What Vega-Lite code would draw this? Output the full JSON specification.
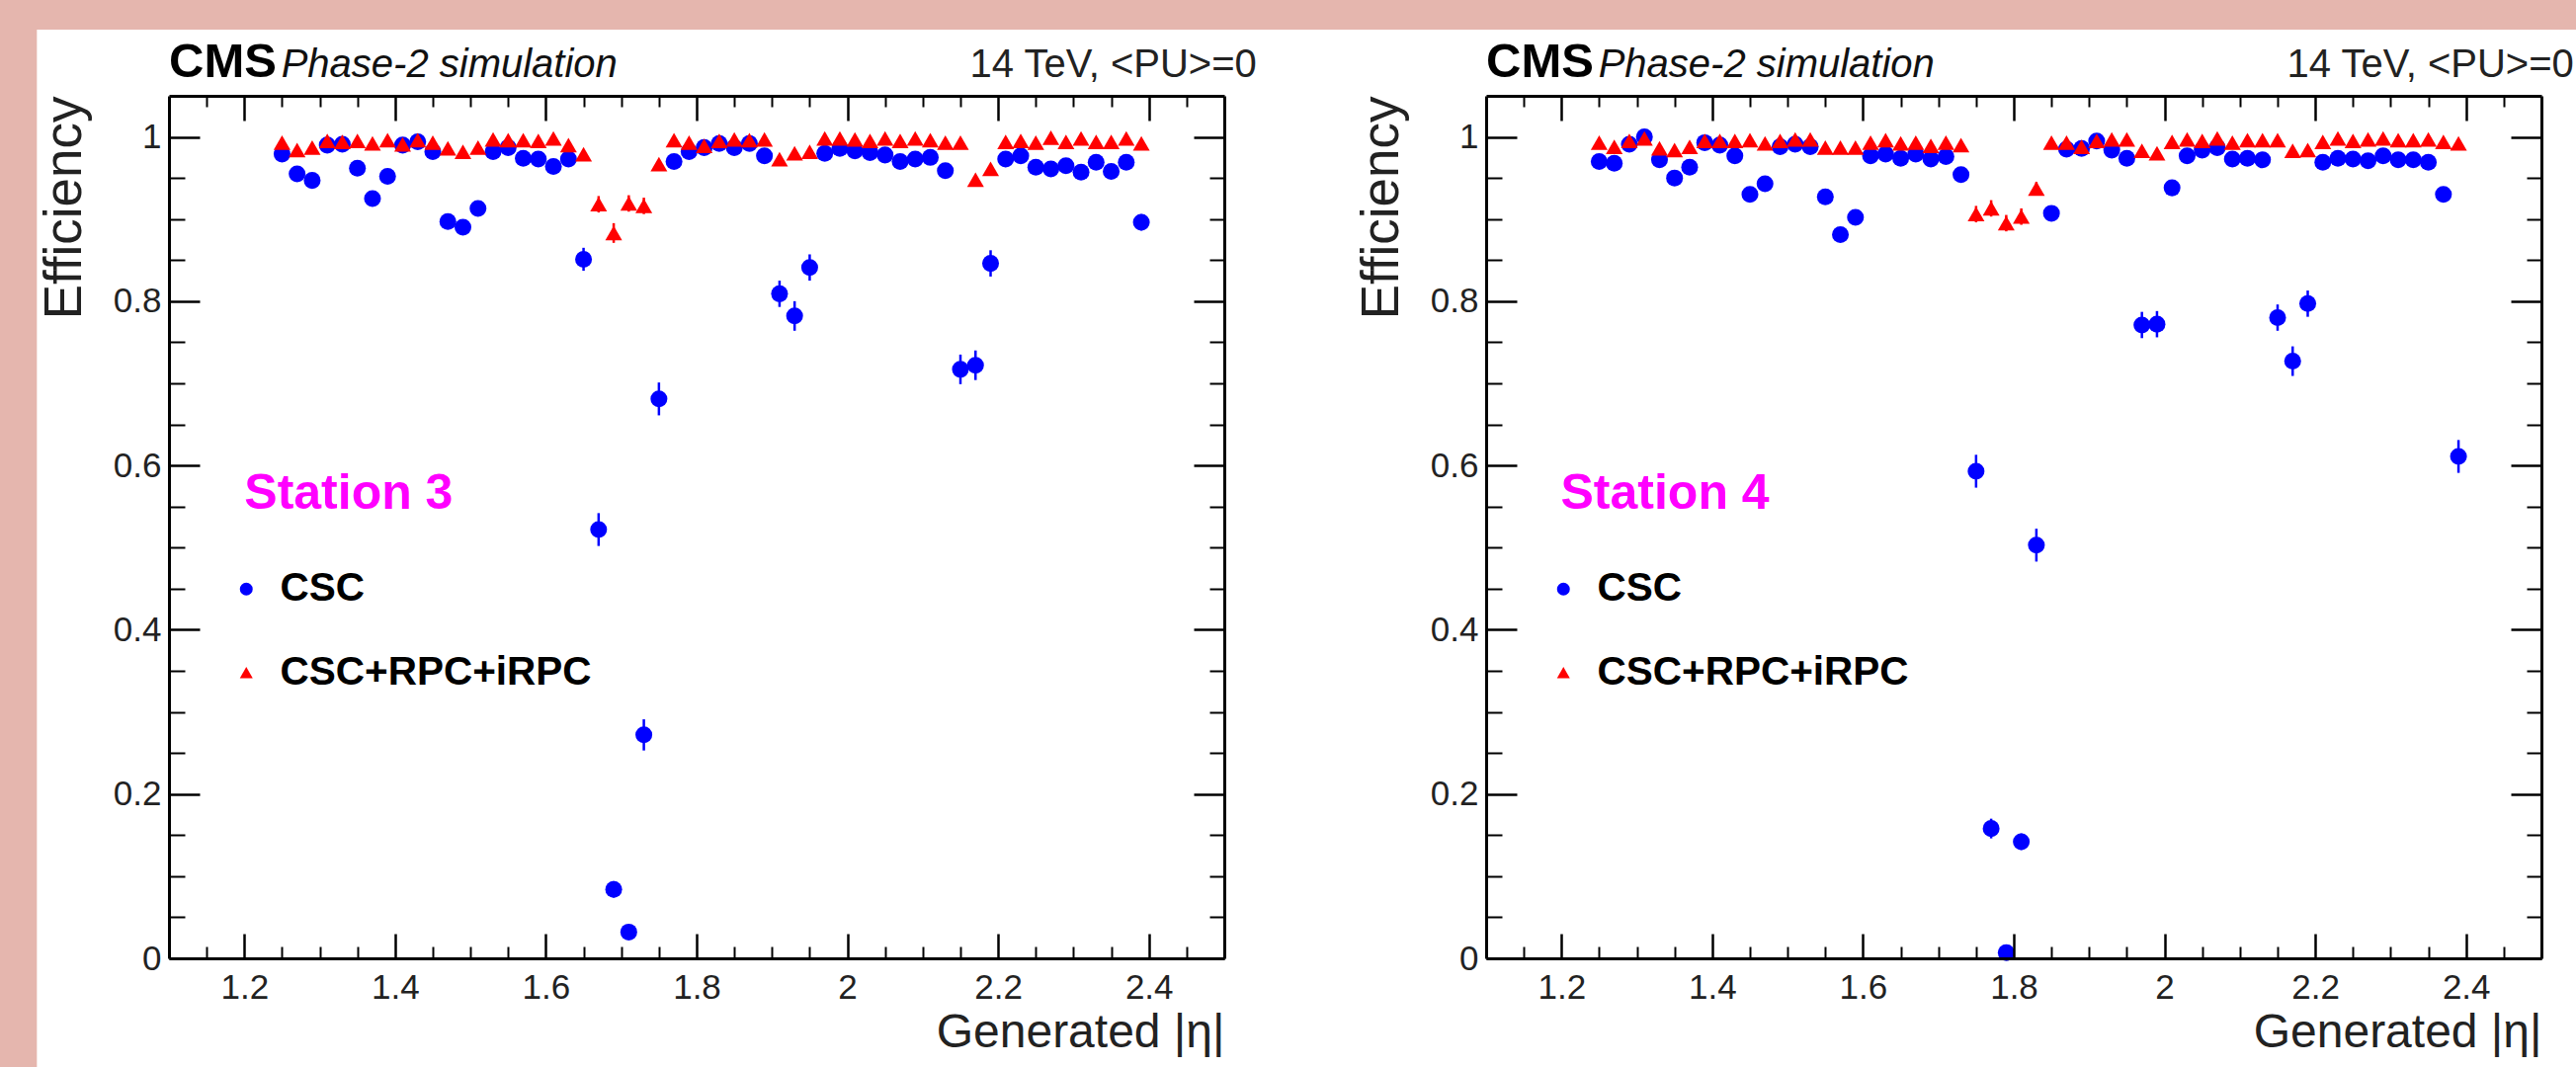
{
"$schema": "https://vega.github.io/schema/vega-lite/v6.json",
"background": "#e5b6ae",
"padding": {"left": 37, "top": 29, "right": 0, "bottom": 0},
"spacing": -4,
"datasets": {
"s3": [
{"eta":1.25,"s":"CSC","e":0.979,"u":0.004},{"eta":1.27,"s":"CSC","e":0.955,"u":0.005},{"eta":1.29,"s":"CSC","e":0.947,"u":0.005},{"eta":1.31,"s":"CSC","e":0.990,"u":0.003},{"eta":1.33,"s":"CSC","e":0.991,"u":0.003},{"eta":1.35,"s":"CSC","e":0.962,"u":0.005},{"eta":1.37,"s":"CSC","e":0.925,"u":0.007},{"eta":1.39,"s":"CSC","e":0.952,"u":0.005},{"eta":1.41,"s":"CSC","e":0.990,"u":0.003},{"eta":1.43,"s":"CSC","e":0.994,"u":0.003},
{"eta":1.45,"s":"CSC","e":0.982,"u":0.004},{"eta":1.47,"s":"CSC","e":0.897,"u":0.009},{"eta":1.49,"s":"CSC","e":0.890,"u":0.009},{"eta":1.51,"s":"CSC","e":0.913,"u":0.009},{"eta":1.53,"s":"CSC","e":0.982,"u":0.004},{"eta":1.55,"s":"CSC","e":0.987,"u":0.003},{"eta":1.57,"s":"CSC","e":0.974,"u":0.004},{"eta":1.59,"s":"CSC","e":0.973,"u":0.004},{"eta":1.61,"s":"CSC","e":0.964,"u":0.005},{"eta":1.63,"s":"CSC","e":0.973,"u":0.004},
{"eta":1.65,"s":"CSC","e":0.851,"u":0.014},{"eta":1.67,"s":"CSC","e":0.522,"u":0.02},{"eta":1.69,"s":"CSC","e":0.084,"u":0.01},{"eta":1.71,"s":"CSC","e":0.032,"u":0.006},{"eta":1.73,"s":"CSC","e":0.272,"u":0.019},{"eta":1.75,"s":"CSC","e":0.681,"u":0.02},{"eta":1.77,"s":"CSC","e":0.970,"u":0.004},{"eta":1.79,"s":"CSC","e":0.982,"u":0.004},{"eta":1.81,"s":"CSC","e":0.987,"u":0.003},{"eta":1.83,"s":"CSC","e":0.992,"u":0.003},
{"eta":1.85,"s":"CSC","e":0.987,"u":0.003},{"eta":1.87,"s":"CSC","e":0.992,"u":0.003},{"eta":1.89,"s":"CSC","e":0.977,"u":0.004},{"eta":1.91,"s":"CSC","e":0.809,"u":0.016},{"eta":1.93,"s":"CSC","e":0.782,"u":0.018},{"eta":1.95,"s":"CSC","e":0.841,"u":0.016},{"eta":1.97,"s":"CSC","e":0.980,"u":0.004},{"eta":1.99,"s":"CSC","e":0.986,"u":0.003},{"eta":2.01,"s":"CSC","e":0.983,"u":0.004},{"eta":2.03,"s":"CSC","e":0.981,"u":0.004},
{"eta":2.05,"s":"CSC","e":0.978,"u":0.004},{"eta":2.07,"s":"CSC","e":0.970,"u":0.004},{"eta":2.09,"s":"CSC","e":0.973,"u":0.004},{"eta":2.11,"s":"CSC","e":0.975,"u":0.004},{"eta":2.13,"s":"CSC","e":0.959,"u":0.005},{"eta":2.15,"s":"CSC","e":0.717,"u":0.018},{"eta":2.17,"s":"CSC","e":0.722,"u":0.018},{"eta":2.19,"s":"CSC","e":0.846,"u":0.016},{"eta":2.21,"s":"CSC","e":0.973,"u":0.004},{"eta":2.23,"s":"CSC","e":0.977,"u":0.004},
{"eta":2.25,"s":"CSC","e":0.963,"u":0.005},{"eta":2.27,"s":"CSC","e":0.961,"u":0.005},{"eta":2.29,"s":"CSC","e":0.965,"u":0.005},{"eta":2.31,"s":"CSC","e":0.957,"u":0.005},{"eta":2.33,"s":"CSC","e":0.969,"u":0.004},{"eta":2.35,"s":"CSC","e":0.958,"u":0.005},{"eta":2.37,"s":"CSC","e":0.969,"u":0.004},{"eta":2.39,"s":"CSC","e":0.896,"u":0.01},
{"eta":1.25,"s":"CSC+RPC+iRPC","e":0.993,"u":0.002},{"eta":1.27,"s":"CSC+RPC+iRPC","e":0.984,"u":0.002},{"eta":1.29,"s":"CSC+RPC+iRPC","e":0.987,"u":0.002},{"eta":1.31,"s":"CSC+RPC+iRPC","e":0.995,"u":0.002},{"eta":1.33,"s":"CSC+RPC+iRPC","e":0.994,"u":0.002},{"eta":1.35,"s":"CSC+RPC+iRPC","e":0.995,"u":0.002},{"eta":1.37,"s":"CSC+RPC+iRPC","e":0.992,"u":0.002},{"eta":1.39,"s":"CSC+RPC+iRPC","e":0.996,"u":0.002},{"eta":1.41,"s":"CSC+RPC+iRPC","e":0.991,"u":0.002},{"eta":1.43,"s":"CSC+RPC+iRPC","e":0.996,"u":0.002},
{"eta":1.45,"s":"CSC+RPC+iRPC","e":0.993,"u":0.002},{"eta":1.47,"s":"CSC+RPC+iRPC","e":0.986,"u":0.002},{"eta":1.49,"s":"CSC+RPC+iRPC","e":0.982,"u":0.002},{"eta":1.51,"s":"CSC+RPC+iRPC","e":0.987,"u":0.002},{"eta":1.53,"s":"CSC+RPC+iRPC","e":0.997,"u":0.002},{"eta":1.55,"s":"CSC+RPC+iRPC","e":0.996,"u":0.002},{"eta":1.57,"s":"CSC+RPC+iRPC","e":0.996,"u":0.002},{"eta":1.59,"s":"CSC+RPC+iRPC","e":0.995,"u":0.002},{"eta":1.61,"s":"CSC+RPC+iRPC","e":0.998,"u":0.002},{"eta":1.63,"s":"CSC+RPC+iRPC","e":0.990,"u":0.002},
{"eta":1.65,"s":"CSC+RPC+iRPC","e":0.979,"u":0.003},{"eta":1.67,"s":"CSC+RPC+iRPC","e":0.918,"u":0.01},{"eta":1.69,"s":"CSC+RPC+iRPC","e":0.883,"u":0.012},{"eta":1.71,"s":"CSC+RPC+iRPC","e":0.919,"u":0.01},{"eta":1.73,"s":"CSC+RPC+iRPC","e":0.916,"u":0.01},{"eta":1.75,"s":"CSC+RPC+iRPC","e":0.967,"u":0.005},{"eta":1.77,"s":"CSC+RPC+iRPC","e":0.996,"u":0.002},{"eta":1.79,"s":"CSC+RPC+iRPC","e":0.993,"u":0.002},{"eta":1.81,"s":"CSC+RPC+iRPC","e":0.989,"u":0.002},{"eta":1.83,"s":"CSC+RPC+iRPC","e":0.995,"u":0.002},
{"eta":1.85,"s":"CSC+RPC+iRPC","e":0.997,"u":0.002},{"eta":1.87,"s":"CSC+RPC+iRPC","e":0.996,"u":0.002},{"eta":1.89,"s":"CSC+RPC+iRPC","e":0.997,"u":0.002},{"eta":1.91,"s":"CSC+RPC+iRPC","e":0.973,"u":0.003},{"eta":1.93,"s":"CSC+RPC+iRPC","e":0.980,"u":0.003},{"eta":1.95,"s":"CSC+RPC+iRPC","e":0.982,"u":0.003},{"eta":1.97,"s":"CSC+RPC+iRPC","e":0.998,"u":0.002},{"eta":1.99,"s":"CSC+RPC+iRPC","e":0.998,"u":0.002},{"eta":2.01,"s":"CSC+RPC+iRPC","e":0.997,"u":0.002},{"eta":2.03,"s":"CSC+RPC+iRPC","e":0.995,"u":0.002},
{"eta":2.05,"s":"CSC+RPC+iRPC","e":0.998,"u":0.002},{"eta":2.07,"s":"CSC+RPC+iRPC","e":0.995,"u":0.002},{"eta":2.09,"s":"CSC+RPC+iRPC","e":0.998,"u":0.002},{"eta":2.11,"s":"CSC+RPC+iRPC","e":0.996,"u":0.002},{"eta":2.13,"s":"CSC+RPC+iRPC","e":0.993,"u":0.002},{"eta":2.15,"s":"CSC+RPC+iRPC","e":0.993,"u":0.002},{"eta":2.17,"s":"CSC+RPC+iRPC","e":0.948,"u":0.005},{"eta":2.19,"s":"CSC+RPC+iRPC","e":0.961,"u":0.004},{"eta":2.21,"s":"CSC+RPC+iRPC","e":0.994,"u":0.002},{"eta":2.23,"s":"CSC+RPC+iRPC","e":0.995,"u":0.002},
{"eta":2.25,"s":"CSC+RPC+iRPC","e":0.993,"u":0.002},{"eta":2.27,"s":"CSC+RPC+iRPC","e":0.999,"u":0.002},{"eta":2.29,"s":"CSC+RPC+iRPC","e":0.994,"u":0.002},{"eta":2.31,"s":"CSC+RPC+iRPC","e":0.998,"u":0.002},{"eta":2.33,"s":"CSC+RPC+iRPC","e":0.994,"u":0.002},{"eta":2.35,"s":"CSC+RPC+iRPC","e":0.994,"u":0.002},{"eta":2.37,"s":"CSC+RPC+iRPC","e":0.998,"u":0.002},{"eta":2.39,"s":"CSC+RPC+iRPC","e":0.992,"u":0.002}
],
"s4": [
{"eta":1.25,"s":"CSC","e":0.970,"u":0.004},{"eta":1.27,"s":"CSC","e":0.968,"u":0.004},{"eta":1.29,"s":"CSC","e":0.991,"u":0.003},{"eta":1.31,"s":"CSC","e":1.000,"u":0.002},{"eta":1.33,"s":"CSC","e":0.972,"u":0.004},{"eta":1.35,"s":"CSC","e":0.950,"u":0.005},{"eta":1.37,"s":"CSC","e":0.963,"u":0.005},{"eta":1.39,"s":"CSC","e":0.993,"u":0.003},{"eta":1.41,"s":"CSC","e":0.990,"u":0.003},{"eta":1.43,"s":"CSC","e":0.977,"u":0.004},
{"eta":1.45,"s":"CSC","e":0.930,"u":0.007},{"eta":1.47,"s":"CSC","e":0.943,"u":0.006},{"eta":1.49,"s":"CSC","e":0.988,"u":0.003},{"eta":1.51,"s":"CSC","e":0.991,"u":0.003},{"eta":1.53,"s":"CSC","e":0.988,"u":0.003},{"eta":1.55,"s":"CSC","e":0.927,"u":0.007},{"eta":1.57,"s":"CSC","e":0.881,"u":0.009},{"eta":1.59,"s":"CSC","e":0.902,"u":0.008},{"eta":1.61,"s":"CSC","e":0.977,"u":0.004},{"eta":1.63,"s":"CSC","e":0.979,"u":0.004},
{"eta":1.65,"s":"CSC","e":0.974,"u":0.004},{"eta":1.67,"s":"CSC","e":0.979,"u":0.004},{"eta":1.69,"s":"CSC","e":0.973,"u":0.004},{"eta":1.71,"s":"CSC","e":0.976,"u":0.004},{"eta":1.73,"s":"CSC","e":0.954,"u":0.005},{"eta":1.75,"s":"CSC","e":0.593,"u":0.02},{"eta":1.77,"s":"CSC","e":0.158,"u":0.012},{"eta":1.79,"s":"CSC","e":0.007,"u":0.004},{"eta":1.81,"s":"CSC","e":0.142,"u":0.01},{"eta":1.83,"s":"CSC","e":0.503,"u":0.02},
{"eta":1.85,"s":"CSC","e":0.907,"u":0.009},{"eta":1.87,"s":"CSC","e":0.985,"u":0.003},{"eta":1.89,"s":"CSC","e":0.986,"u":0.003},{"eta":1.91,"s":"CSC","e":0.995,"u":0.003},{"eta":1.93,"s":"CSC","e":0.984,"u":0.003},{"eta":1.95,"s":"CSC","e":0.974,"u":0.004},{"eta":1.97,"s":"CSC","e":0.771,"u":0.016},{"eta":1.99,"s":"CSC","e":0.772,"u":0.016},{"eta":2.01,"s":"CSC","e":0.938,"u":0.006},{"eta":2.03,"s":"CSC","e":0.977,"u":0.004},
{"eta":2.05,"s":"CSC","e":0.984,"u":0.003},{"eta":2.07,"s":"CSC","e":0.987,"u":0.003},{"eta":2.09,"s":"CSC","e":0.973,"u":0.004},{"eta":2.11,"s":"CSC","e":0.974,"u":0.004},{"eta":2.13,"s":"CSC","e":0.972,"u":0.004},{"eta":2.15,"s":"CSC","e":0.780,"u":0.016},{"eta":2.17,"s":"CSC","e":0.727,"u":0.018},{"eta":2.19,"s":"CSC","e":0.797,"u":0.016},{"eta":2.21,"s":"CSC","e":0.969,"u":0.004},{"eta":2.23,"s":"CSC","e":0.974,"u":0.004},
{"eta":2.25,"s":"CSC","e":0.973,"u":0.004},{"eta":2.27,"s":"CSC","e":0.971,"u":0.004},{"eta":2.29,"s":"CSC","e":0.977,"u":0.004},{"eta":2.31,"s":"CSC","e":0.972,"u":0.004},{"eta":2.33,"s":"CSC","e":0.972,"u":0.004},{"eta":2.35,"s":"CSC","e":0.969,"u":0.004},{"eta":2.37,"s":"CSC","e":0.930,"u":0.006},{"eta":2.39,"s":"CSC","e":0.611,"u":0.02},
{"eta":1.25,"s":"CSC+RPC+iRPC","e":0.993,"u":0.002},{"eta":1.27,"s":"CSC+RPC+iRPC","e":0.988,"u":0.002},{"eta":1.29,"s":"CSC+RPC+iRPC","e":0.995,"u":0.002},{"eta":1.31,"s":"CSC+RPC+iRPC","e":0.998,"u":0.002},{"eta":1.33,"s":"CSC+RPC+iRPC","e":0.986,"u":0.002},{"eta":1.35,"s":"CSC+RPC+iRPC","e":0.984,"u":0.002},{"eta":1.37,"s":"CSC+RPC+iRPC","e":0.988,"u":0.002},{"eta":1.39,"s":"CSC+RPC+iRPC","e":0.995,"u":0.002},{"eta":1.41,"s":"CSC+RPC+iRPC","e":0.995,"u":0.002},{"eta":1.43,"s":"CSC+RPC+iRPC","e":0.995,"u":0.002},
{"eta":1.45,"s":"CSC+RPC+iRPC","e":0.996,"u":0.002},{"eta":1.47,"s":"CSC+RPC+iRPC","e":0.992,"u":0.002},{"eta":1.49,"s":"CSC+RPC+iRPC","e":0.995,"u":0.002},{"eta":1.51,"s":"CSC+RPC+iRPC","e":0.997,"u":0.002},{"eta":1.53,"s":"CSC+RPC+iRPC","e":0.997,"u":0.002},{"eta":1.55,"s":"CSC+RPC+iRPC","e":0.987,"u":0.002},{"eta":1.57,"s":"CSC+RPC+iRPC","e":0.987,"u":0.002},{"eta":1.59,"s":"CSC+RPC+iRPC","e":0.987,"u":0.002},{"eta":1.61,"s":"CSC+RPC+iRPC","e":0.993,"u":0.002},{"eta":1.63,"s":"CSC+RPC+iRPC","e":0.996,"u":0.002},
{"eta":1.65,"s":"CSC+RPC+iRPC","e":0.992,"u":0.002},{"eta":1.67,"s":"CSC+RPC+iRPC","e":0.993,"u":0.002},{"eta":1.69,"s":"CSC+RPC+iRPC","e":0.989,"u":0.002},{"eta":1.71,"s":"CSC+RPC+iRPC","e":0.993,"u":0.002},{"eta":1.73,"s":"CSC+RPC+iRPC","e":0.990,"u":0.002},{"eta":1.75,"s":"CSC+RPC+iRPC","e":0.906,"u":0.01},{"eta":1.77,"s":"CSC+RPC+iRPC","e":0.913,"u":0.01},{"eta":1.79,"s":"CSC+RPC+iRPC","e":0.895,"u":0.01},{"eta":1.81,"s":"CSC+RPC+iRPC","e":0.903,"u":0.01},{"eta":1.83,"s":"CSC+RPC+iRPC","e":0.937,"u":0.008},
{"eta":1.85,"s":"CSC+RPC+iRPC","e":0.993,"u":0.002},{"eta":1.87,"s":"CSC+RPC+iRPC","e":0.993,"u":0.002},{"eta":1.89,"s":"CSC+RPC+iRPC","e":0.988,"u":0.002},{"eta":1.91,"s":"CSC+RPC+iRPC","e":0.995,"u":0.002},{"eta":1.93,"s":"CSC+RPC+iRPC","e":0.997,"u":0.002},{"eta":1.95,"s":"CSC+RPC+iRPC","e":0.997,"u":0.002},{"eta":1.97,"s":"CSC+RPC+iRPC","e":0.983,"u":0.003},{"eta":1.99,"s":"CSC+RPC+iRPC","e":0.980,"u":0.003},{"eta":2.01,"s":"CSC+RPC+iRPC","e":0.994,"u":0.002},{"eta":2.03,"s":"CSC+RPC+iRPC","e":0.997,"u":0.002},
{"eta":2.05,"s":"CSC+RPC+iRPC","e":0.995,"u":0.002},{"eta":2.07,"s":"CSC+RPC+iRPC","e":0.998,"u":0.002},{"eta":2.09,"s":"CSC+RPC+iRPC","e":0.993,"u":0.002},{"eta":2.11,"s":"CSC+RPC+iRPC","e":0.996,"u":0.002},{"eta":2.13,"s":"CSC+RPC+iRPC","e":0.996,"u":0.002},{"eta":2.15,"s":"CSC+RPC+iRPC","e":0.996,"u":0.002},{"eta":2.17,"s":"CSC+RPC+iRPC","e":0.983,"u":0.003},{"eta":2.19,"s":"CSC+RPC+iRPC","e":0.984,"u":0.003},{"eta":2.21,"s":"CSC+RPC+iRPC","e":0.994,"u":0.002},{"eta":2.23,"s":"CSC+RPC+iRPC","e":0.998,"u":0.002},
{"eta":2.25,"s":"CSC+RPC+iRPC","e":0.995,"u":0.002},{"eta":2.27,"s":"CSC+RPC+iRPC","e":0.997,"u":0.002},{"eta":2.29,"s":"CSC+RPC+iRPC","e":0.998,"u":0.002},{"eta":2.31,"s":"CSC+RPC+iRPC","e":0.996,"u":0.002},{"eta":2.33,"s":"CSC+RPC+iRPC","e":0.996,"u":0.002},{"eta":2.35,"s":"CSC+RPC+iRPC","e":0.997,"u":0.002},{"eta":2.37,"s":"CSC+RPC+iRPC","e":0.994,"u":0.002},{"eta":2.39,"s":"CSC+RPC+iRPC","e":0.992,"u":0.002}
]
},
"hconcat": [
{
"width": 1068, "height": 873,
"resolve": {"axis": {"x": "independent", "y": "independent"}},
"layer": [
{"data": {"values": [{}]}, "mark": {"type": "rect", "fill": "#ffffff", "stroke": "#ffffff", "strokeWidth": 2},
 "encoding": {"x": {"datum": 0.9261, "type": "quantitative", "scale": {"domain": [1.1, 2.5], "nice": false, "zero": false}, "axis": null}, "x2": {"datum": 2.6748}, "y": {"datum": 1.1294, "type": "quantitative", "scale": {"domain": [0, 1.05], "nice": false, "zero": false}, "axis": null}, "y2": {"datum": -0.132}}},
{"data": {"name": "s3"}, "transform": [{"filter": "datum.s === 'CSC'"}], "mark": {"type": "errorbar", "color": "#0000ff", "thickness": 2.5},
 "encoding": {"x": {"field": "eta", "type": "quantitative", "scale": {"domain": [1.1, 2.5], "nice": false, "zero": false}, "axis": null}, "y": {"field": "e", "type": "quantitative", "scale": {"domain": [0, 1.05], "nice": false, "zero": false}, "axis": null}, "yError": {"field": "u"}}},
{"data": {"name": "s3"}, "transform": [{"filter": "datum.s !== 'CSC'"}], "mark": {"type": "errorbar", "color": "#ff0000", "thickness": 2.5},
 "encoding": {"x": {"field": "eta", "type": "quantitative", "scale": {"domain": [1.1, 2.5], "nice": false, "zero": false}, "axis": null}, "y": {"field": "e", "type": "quantitative", "scale": {"domain": [0, 1.05], "nice": false, "zero": false}, "axis": null}, "yError": {"field": "u"}}},
{"data": {"name": "s3"}, "mark": {"type": "point", "filled": true, "size": 290, "opacity": 1, "strokeWidth": 0},
 "encoding": {
  "x": {"field": "eta", "type": "quantitative", "scale": {"domain": [1.1, 2.5], "nice": false, "zero": false},
   "axis": {"zindex": 2, "orient": "bottom", "values": [1.2, 1.4, 1.6, 1.8, 2, 2.2, 2.4], "format": "~g", "domain": true, "domainWidth": 3, "tickSize": -25, "tickWidth": 2.5, "labelPadding": 37, "labelFontSize": 35, "labelColor": "#222222", "labelOverlap": false, "labelFlush": false, "title": "Generated |η|", "titleFontSize": 48, "titleFontWeight": "normal", "titleColor": "#222222", "titleAnchor": "end", "titlePadding": 4}},
  "y": {"field": "e", "type": "quantitative", "scale": {"domain": [0, 1.05], "nice": false, "zero": false},
   "axis": {"zindex": 2, "orient": "left", "values": [0, 0.2, 0.4, 0.6, 0.8, 1], "format": "~g", "domain": true, "domainWidth": 3, "tickSize": -31, "tickWidth": 2.5, "labelPadding": 39, "labelFontSize": 35, "labelColor": "#222222", "labelOverlap": false, "labelFlush": false, "title": "Efficiency", "titleFontSize": 53, "titleFontWeight": "normal", "titleColor": "#222222", "titleAnchor": "end", "titlePadding": 22}},
  "color": {"field": "s", "type": "nominal", "scale": {"domain": ["CSC", "CSC+RPC+iRPC"], "range": ["#0000ff", "#ff0000"]},
   "legend": {"orient": "none", "legendX": 58, "legendY": 479, "title": null, "padding": 0, "labelFontSize": 40.5, "labelFontWeight": "bold", "labelColor": "#000000", "labelLimit": 0, "symbolSize": 170, "symbolStrokeWidth": 0, "symbolOpacity": 1, "rowPadding": 43.5, "labelOffset": 14}},
  "shape": {"field": "s", "type": "nominal", "scale": {"domain": ["CSC", "CSC+RPC+iRPC"], "range": ["circle", "triangle-up"]},
   "legend": {"orient": "none", "legendX": 58, "legendY": 479, "title": null, "padding": 0, "labelFontSize": 40.5, "labelFontWeight": "bold", "labelColor": "#000000", "labelLimit": 0, "symbolSize": 170, "symbolStrokeWidth": 0, "symbolOpacity": 1, "rowPadding": 43.5, "labelOffset": 14}}
 }},
{"data": {"values": [{}]}, "mark": {"type": "text", "text": "Station 3", "fontSize": 50, "fontWeight": "bold", "color": "#ff00ff", "align": "left", "baseline": "middle"},
 "encoding": {
  "x": {"datum": 1.2, "type": "quantitative", "scale": {"domain": [1.1, 2.5], "nice": false, "zero": false},
   "axis": {"zindex": 2, "orient": "bottom", "values": [1.15, 1.25, 1.3, 1.35, 1.45, 1.5, 1.55, 1.65, 1.7, 1.75, 1.85, 1.9, 1.95, 2.05, 2.1, 2.15, 2.25, 2.3, 2.35, 2.45], "domain": false, "labels": false, "tickSize": -12, "tickWidth": 2, "title": null}},
  "y": {"datum": 0.565, "type": "quantitative", "scale": {"domain": [0, 1.05], "nice": false, "zero": false},
   "axis": {"zindex": 2, "orient": "left", "values": [0.05, 0.1, 0.15, 0.25, 0.3, 0.35, 0.45, 0.5, 0.55, 0.65, 0.7, 0.75, 0.85, 0.9, 0.95], "domain": false, "labels": false, "tickSize": -16, "tickWidth": 2, "title": null}}
 }},
{"data": {"values": [{}]}, "mark": {"type": "text", "text": "CMS", "fontSize": 49, "fontWeight": "bold", "color": "#000000", "align": "left", "baseline": "alphabetic"},
 "encoding": {
  "x": {"datum": 1.1, "type": "quantitative", "scale": {"domain": [1.1, 2.5], "nice": false, "zero": false},
   "axis": {"zindex": 2, "orient": "top", "values": [1.2, 1.4, 1.6, 1.8, 2, 2.2, 2.4], "domain": true, "domainWidth": 3, "labels": false, "tickSize": -25, "tickWidth": 2.5, "title": null}},
  "y": {"datum": 1.0729, "type": "quantitative", "scale": {"domain": [0, 1.05], "nice": false, "zero": false},
   "axis": {"zindex": 2, "orient": "right", "values": [0, 0.2, 0.4, 0.6, 0.8, 1], "domain": true, "domainWidth": 3, "labels": false, "tickSize": -31, "tickWidth": 2.5, "title": null}}
 }},
{"data": {"values": [{}]}, "mark": {"type": "text", "text": "Phase-2 simulation", "fontSize": 40, "fontStyle": "italic", "color": "#111111", "align": "left", "baseline": "alphabetic"},
 "encoding": {
  "x": {"datum": 1.249, "type": "quantitative", "scale": {"domain": [1.1, 2.5], "nice": false, "zero": false},
   "axis": {"zindex": 2, "orient": "top", "values": [1.15, 1.25, 1.3, 1.35, 1.45, 1.5, 1.55, 1.65, 1.7, 1.75, 1.85, 1.9, 1.95, 2.05, 2.1, 2.15, 2.25, 2.3, 2.35, 2.45], "domain": false, "labels": false, "tickSize": -11, "tickWidth": 2, "title": null}},
  "y": {"datum": 1.0729, "type": "quantitative", "scale": {"domain": [0, 1.05], "nice": false, "zero": false},
   "axis": {"zindex": 2, "orient": "right", "values": [0.05, 0.1, 0.15, 0.25, 0.3, 0.35, 0.45, 0.5, 0.55, 0.65, 0.7, 0.75, 0.85, 0.9, 0.95], "domain": false, "labels": false, "tickSize": -15, "tickWidth": 2, "title": null}}
 }},
{"data": {"values": [{}]}, "mark": {"type": "text", "text": "14 TeV, <PU>=0", "fontSize": 40, "color": "#222222", "align": "right", "baseline": "alphabetic"},
 "encoding": {
  "x": {"datum": 2.543, "type": "quantitative", "scale": {"domain": [1.1, 2.5], "nice": false, "zero": false}, "axis": null},
  "y": {"datum": 1.0729, "type": "quantitative", "scale": {"domain": [0, 1.05], "nice": false, "zero": false}, "axis": null}
 }}
]
},
{
"width": 1068, "height": 873,
"resolve": {"axis": {"x": "independent", "y": "independent"}},
"layer": [
{"data": {"values": [{}]}, "mark": {"type": "rect", "fill": "#ffffff", "stroke": "#ffffff", "strokeWidth": 2},
 "encoding": {"x": {"datum": 0.9261, "type": "quantitative", "scale": {"domain": [1.1, 2.5], "nice": false, "zero": false}, "axis": null}, "x2": {"datum": 2.5452}, "y": {"datum": 1.1294, "type": "quantitative", "scale": {"domain": [0, 1.05], "nice": false, "zero": false}, "axis": null}, "y2": {"datum": -0.132}}},
{"data": {"name": "s4"}, "transform": [{"filter": "datum.s === 'CSC'"}], "mark": {"type": "errorbar", "color": "#0000ff", "thickness": 2.5},
 "encoding": {"x": {"field": "eta", "type": "quantitative", "scale": {"domain": [1.1, 2.5], "nice": false, "zero": false}, "axis": null}, "y": {"field": "e", "type": "quantitative", "scale": {"domain": [0, 1.05], "nice": false, "zero": false}, "axis": null}, "yError": {"field": "u"}}},
{"data": {"name": "s4"}, "transform": [{"filter": "datum.s !== 'CSC'"}], "mark": {"type": "errorbar", "color": "#ff0000", "thickness": 2.5},
 "encoding": {"x": {"field": "eta", "type": "quantitative", "scale": {"domain": [1.1, 2.5], "nice": false, "zero": false}, "axis": null}, "y": {"field": "e", "type": "quantitative", "scale": {"domain": [0, 1.05], "nice": false, "zero": false}, "axis": null}, "yError": {"field": "u"}}},
{"data": {"name": "s4"}, "mark": {"type": "point", "filled": true, "size": 290, "opacity": 1, "strokeWidth": 0},
 "encoding": {
  "x": {"field": "eta", "type": "quantitative", "scale": {"domain": [1.1, 2.5], "nice": false, "zero": false},
   "axis": {"zindex": 2, "orient": "bottom", "values": [1.2, 1.4, 1.6, 1.8, 2, 2.2, 2.4], "format": "~g", "domain": true, "domainWidth": 3, "tickSize": -25, "tickWidth": 2.5, "labelPadding": 37, "labelFontSize": 35, "labelColor": "#222222", "labelOverlap": false, "labelFlush": false, "title": "Generated |η|", "titleFontSize": 48, "titleFontWeight": "normal", "titleColor": "#222222", "titleAnchor": "end", "titlePadding": 4}},
  "y": {"field": "e", "type": "quantitative", "scale": {"domain": [0, 1.05], "nice": false, "zero": false},
   "axis": {"zindex": 2, "orient": "left", "values": [0, 0.2, 0.4, 0.6, 0.8, 1], "format": "~g", "domain": true, "domainWidth": 3, "tickSize": -31, "tickWidth": 2.5, "labelPadding": 39, "labelFontSize": 35, "labelColor": "#222222", "labelOverlap": false, "labelFlush": false, "title": "Efficiency", "titleFontSize": 53, "titleFontWeight": "normal", "titleColor": "#222222", "titleAnchor": "end", "titlePadding": 22}},
  "color": {"field": "s", "type": "nominal", "scale": {"domain": ["CSC", "CSC+RPC+iRPC"], "range": ["#0000ff", "#ff0000"]},
   "legend": {"orient": "none", "legendX": 58, "legendY": 479, "title": null, "padding": 0, "labelFontSize": 40.5, "labelFontWeight": "bold", "labelColor": "#000000", "labelLimit": 0, "symbolSize": 170, "symbolStrokeWidth": 0, "symbolOpacity": 1, "rowPadding": 43.5, "labelOffset": 14}},
  "shape": {"field": "s", "type": "nominal", "scale": {"domain": ["CSC", "CSC+RPC+iRPC"], "range": ["circle", "triangle-up"]},
   "legend": {"orient": "none", "legendX": 58, "legendY": 479, "title": null, "padding": 0, "labelFontSize": 40.5, "labelFontWeight": "bold", "labelColor": "#000000", "labelLimit": 0, "symbolSize": 170, "symbolStrokeWidth": 0, "symbolOpacity": 1, "rowPadding": 43.5, "labelOffset": 14}}
 }},
{"data": {"values": [{}]}, "mark": {"type": "text", "text": "Station 4", "fontSize": 50, "fontWeight": "bold", "color": "#ff00ff", "align": "left", "baseline": "middle"},
 "encoding": {
  "x": {"datum": 1.199, "type": "quantitative", "scale": {"domain": [1.1, 2.5], "nice": false, "zero": false},
   "axis": {"zindex": 2, "orient": "bottom", "values": [1.15, 1.25, 1.3, 1.35, 1.45, 1.5, 1.55, 1.65, 1.7, 1.75, 1.85, 1.9, 1.95, 2.05, 2.1, 2.15, 2.25, 2.3, 2.35, 2.45], "domain": false, "labels": false, "tickSize": -12, "tickWidth": 2, "title": null}},
  "y": {"datum": 0.565, "type": "quantitative", "scale": {"domain": [0, 1.05], "nice": false, "zero": false},
   "axis": {"zindex": 2, "orient": "left", "values": [0.05, 0.1, 0.15, 0.25, 0.3, 0.35, 0.45, 0.5, 0.55, 0.65, 0.7, 0.75, 0.85, 0.9, 0.95], "domain": false, "labels": false, "tickSize": -16, "tickWidth": 2, "title": null}}
 }},
{"data": {"values": [{}]}, "mark": {"type": "text", "text": "CMS", "fontSize": 49, "fontWeight": "bold", "color": "#000000", "align": "left", "baseline": "alphabetic"},
 "encoding": {
  "x": {"datum": 1.1, "type": "quantitative", "scale": {"domain": [1.1, 2.5], "nice": false, "zero": false},
   "axis": {"zindex": 2, "orient": "top", "values": [1.2, 1.4, 1.6, 1.8, 2, 2.2, 2.4], "domain": true, "domainWidth": 3, "labels": false, "tickSize": -25, "tickWidth": 2.5, "title": null}},
  "y": {"datum": 1.0729, "type": "quantitative", "scale": {"domain": [0, 1.05], "nice": false, "zero": false},
   "axis": {"zindex": 2, "orient": "right", "values": [0, 0.2, 0.4, 0.6, 0.8, 1], "domain": true, "domainWidth": 3, "labels": false, "tickSize": -31, "tickWidth": 2.5, "title": null}}
 }},
{"data": {"values": [{}]}, "mark": {"type": "text", "text": "Phase-2 simulation", "fontSize": 40, "fontStyle": "italic", "color": "#111111", "align": "left", "baseline": "alphabetic"},
 "encoding": {
  "x": {"datum": 1.249, "type": "quantitative", "scale": {"domain": [1.1, 2.5], "nice": false, "zero": false},
   "axis": {"zindex": 2, "orient": "top", "values": [1.15, 1.25, 1.3, 1.35, 1.45, 1.5, 1.55, 1.65, 1.7, 1.75, 1.85, 1.9, 1.95, 2.05, 2.1, 2.15, 2.25, 2.3, 2.35, 2.45], "domain": false, "labels": false, "tickSize": -11, "tickWidth": 2, "title": null}},
  "y": {"datum": 1.0729, "type": "quantitative", "scale": {"domain": [0, 1.05], "nice": false, "zero": false},
   "axis": {"zindex": 2, "orient": "right", "values": [0.05, 0.1, 0.15, 0.25, 0.3, 0.35, 0.45, 0.5, 0.55, 0.65, 0.7, 0.75, 0.85, 0.9, 0.95], "domain": false, "labels": false, "tickSize": -15, "tickWidth": 2, "title": null}}
 }},
{"data": {"values": [{}]}, "mark": {"type": "text", "text": "14 TeV, <PU>=0", "fontSize": 40, "color": "#222222", "align": "right", "baseline": "alphabetic"},
 "encoding": {
  "x": {"datum": 2.543, "type": "quantitative", "scale": {"domain": [1.1, 2.5], "nice": false, "zero": false}, "axis": null},
  "y": {"datum": 1.0729, "type": "quantitative", "scale": {"domain": [0, 1.05], "nice": false, "zero": false}, "axis": null}
 }}
]
}
],
"resolve": {"scale": {"color": "independent", "shape": "independent"}, "legend": {"color": "independent", "shape": "independent"}},
"config": {
 "font": "Liberation Sans",
 "view": {"stroke": null},
 "axis": {"grid": false, "tickColor": "#000000", "domainColor": "#000000", "labelFont": "Liberation Sans", "titleFont": "Liberation Sans"},
 "legend": {"labelFont": "Liberation Sans"},
 "text": {"font": "Liberation Sans"}
}
}
